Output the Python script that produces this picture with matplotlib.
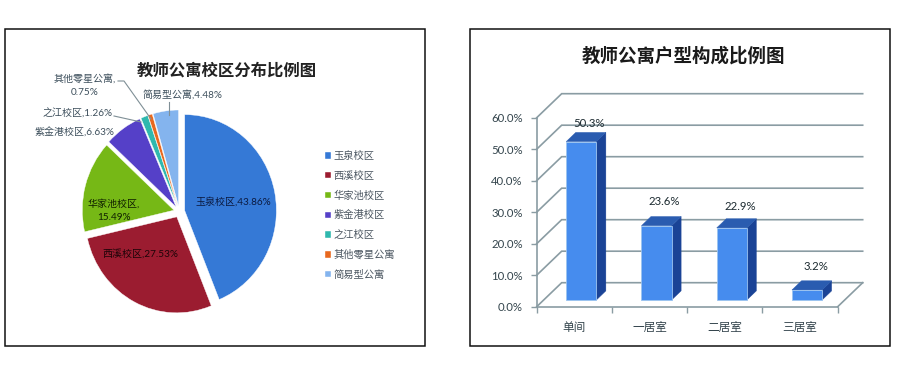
import matplotlib
matplotlib.use("Agg")
import matplotlib.pyplot as plt
from matplotlib.patches import Polygon, Rectangle

plt.rcParams['font.family'] = ['Lato', 'Noto Sans CJK SC', 'DejaVu Sans']

pie_labels = ['玉泉校区', '西溪校区', '华家池校区', '紫金港校区', '之江校区', '其他零星公寓', '简易型公寓']
pie_values = [43.86, 27.53, 15.49, 6.63, 1.26, 0.75, 4.48]
pie_colors = ['#3579d6', '#9b1c30', '#76b816', '#5540c8', '#2fb8ae', '#e8681e', '#84b4ee']

bar_labels = ['单间', '一居室', '二居室', '三居室']
bar_values = [50.3, 23.6, 22.9, 3.2]
y_ticks = [0, 10, 20, 30, 40, 50, 60]

W, H = 897, 368
fig = plt.figure(figsize=(W / 100, H / 100), dpi=100, facecolor='white')


def box(x0, y0, x1, y1):
    return [x0 / W, 1 - y1 / H, (x1 - x0) / W, (y1 - y0) / H]


# overlay in pixel coordinates for frames and free text
ov = fig.add_axes([0, 0, 1, 1], zorder=5)
ov.set_xlim(0, W)
ov.set_ylim(H, 0)
ov.axis('off')
ov.patch.set_alpha(0)
for x0, x1 in [(4.5, 424.5), (470, 890)]:
    ov.add_patch(Rectangle((x0, 28.5), x1 - x0, 317, fill=False, ec='#111111', lw=1.1))

# ---------- pie ----------
rx, ry = 91.7, 96
cx, cy = 179.3, 211.7
axp = fig.add_axes(box(cx - 1.25 * rx, cy - 1.25 * ry, cx + 1.25 * rx, cy + 1.25 * ry))
wedges, _ = axp.pie(pie_values, colors=pie_colors, startangle=90, counterclock=False,
                    explode=[0.06] * len(pie_values), radius=1,
                    wedgeprops=dict(edgecolor='white', linewidth=0.3))
axp.set_aspect('auto')
axp.set_xlim(-1.25, 1.25)
axp.set_ylim(-1.25, 1.25)

ov.text(227, 71, '教师公寓校区分布比例图', fontsize=11.8, ha='center', va='center', color='#222222', fontweight='bold')

lab_c = '#3d4f5c'
lab = dict(fontsize=7.2, ha='center', va='center')
ov.text(233, 202, f'{pie_labels[0]},{pie_values[0]}%', color='#0b1a40', **lab)
ov.text(140, 254, f'{pie_labels[1]},{pie_values[1]}%', color='#1c0408', **lab)
ov.text(114, 210, f'{pie_labels[2]},\n{pie_values[2]}%', color='#102000', linespacing=1.6, **lab)
ov.text(75, 133, f'{pie_labels[3]},{pie_values[3]}%', color=lab_c, **lab)
ov.text(77.5, 113.5, f'{pie_labels[4]},{pie_values[4]}%', color=lab_c, **lab)
ov.text(85, 85, f'{pie_labels[5]},\n{pie_values[5]}%', color=lab_c, linespacing=1.6, **lab)
ov.text(182.5, 94.5, f'{pie_labels[6]},{pie_values[6]}%', color=lab_c, **lab)

lead = dict(color='#7f8f96', lw=0.8)
ov.plot([114, 141], [116, 122], **lead)
ov.plot([118, 124, 151], [81, 81, 119], **lead)
ov.plot([168.5, 168.5], [102, 115], **lead)

leg = axp.legend(wedges, pie_labels, loc='upper left',
                 bbox_to_anchor=((325 - axp.get_position().x0 * W) / (2.5 * rx),
                                 1 - (151 - (1 - axp.get_position().y1) * H) / (2.5 * ry)),
                 frameon=False, fontsize=7.4, labelspacing=0.94, handlelength=0.55, handleheight=0.55,
                 handletextpad=0.3, borderpad=0, borderaxespad=0, labelcolor='#4a5560')

# ---------- pseudo-3D bars ----------
gray = '#8a9ca3'
axb = fig.add_axes(box(536.7, 117.7, 837.7, 306.7))
axb.set_xlim(0, 4)
axb.set_ylim(0, 60)
axb.patch.set_alpha(0)
DX, DY = 0.332, 7.62


def proj(x, y, d):
    return x + DX * d, y + DY * d


for v in y_ticks:
    xa, ya = proj(0, v, 0)
    xb, yb = proj(0, v, 1)
    xc, yc = proj(4, v, 1)
    axb.plot([xa, xb, xc], [ya, yb, yc], color=gray, lw=1.2, clip_on=False, zorder=1, solid_joinstyle='miter')
xr, yr = proj(4, 0, 1)
axb.plot([4, xr], [0, yr], color=gray, lw=1.2, clip_on=False, zorder=1)

d0, d1 = 0.278, 0.66
offs = [(-5, 2.8), (-5, 4.7), (-4, 3.8), (-4, 4.4)]
for i, v in enumerate(bar_values):
    xl, xr_ = i + 0.3, i + 0.7
    f = [proj(xl, 0, d0), proj(xr_, 0, d0), proj(xr_, v, d0), proj(xl, v, d0)]
    side = [proj(xr_, 0, d0), proj(xr_, 0, d1), proj(xr_, v, d1), proj(xr_, v, d0)]
    top = [proj(xl, v, d0), proj(xr_, v, d0), proj(xr_, v, d1), proj(xl, v, d1)]
    axb.add_patch(Polygon(side, fc='#1a4396', ec='#1a4396', lw=0.3, zorder=3, clip_on=False))
    axb.add_patch(Polygon(top, fc='#2a5cb0', ec='#2a5cb0', lw=0.3, zorder=3, clip_on=False))
    axb.add_patch(Polygon(f, fc='#468cee', ec='#9cc4f0', lw=0.6, zorder=4, clip_on=False))
    bx, by = proj(i + 0.5, v, d1)
    axb.text(bx + offs[i][0] / 75.25 + 3 / 75.25, by + offs[i][1], f'{v}%', fontsize=8.2, ha='center', va='center',
             color='#1c2a30', zorder=6, clip_on=False)

axb.set_xticks([0, 1, 2, 3, 4])
axb.set_xticklabels([])
axb.set_xticks([0.5, 1.5, 2.5, 3.5], labels=bar_labels, minor=True)
axb.tick_params(axis='x', which='major', length=4, width=1, color=gray, direction='out')
axb.tick_params(axis='x', which='minor', length=0, pad=11, labelsize=8.4, labelcolor='#33444c')
axb.set_yticks(y_ticks)
axb.set_yticklabels([f'{t:.1f}%' for t in y_ticks])
axb.tick_params(axis='y', length=4, width=1, color=gray, pad=6, labelsize=8.2, labelcolor='#33444c')
for s in ['top', 'right']:
    axb.spines[s].set_visible(False)
for s in ['left', 'bottom']:
    axb.spines[s].set_color(gray)
    axb.spines[s].set_linewidth(1.2)

ov.text(683, 55, '教师公寓户型构成比例图', fontsize=13.3, ha='center', va='center', color='#1a1a1a', fontweight='bold')

fig.savefig('out.png', dpi=100)
